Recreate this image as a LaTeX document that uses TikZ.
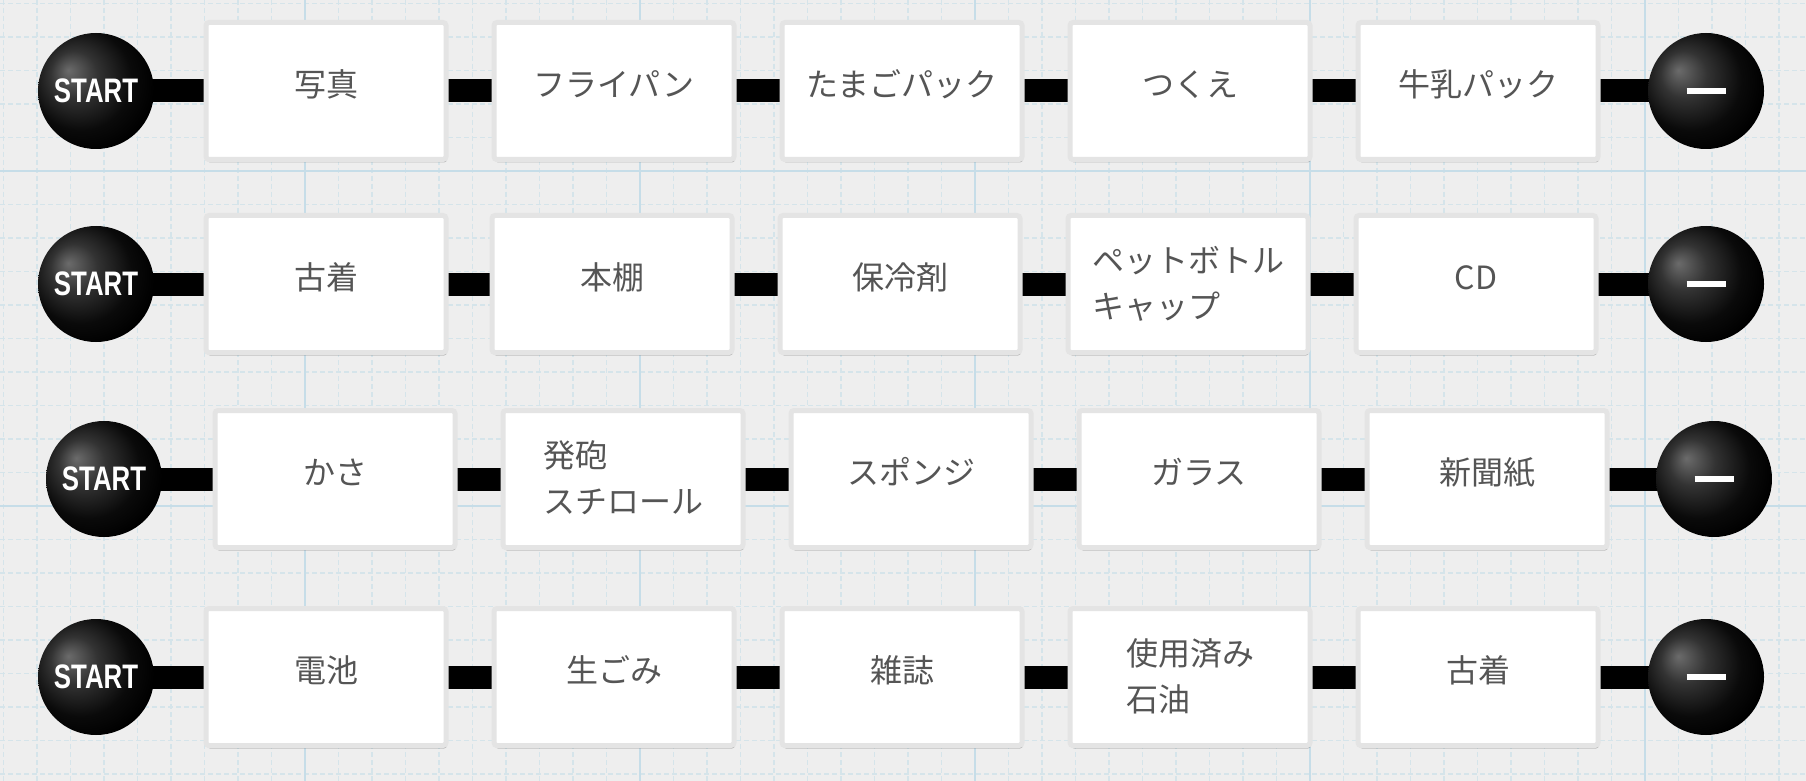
\documentclass[tikz,border=0pt]{standalone}
\usepackage{fontspec}
\newfontfamily\jp{Noto Sans CJK JP}
\newfontfamily\stf[FakeStretch=0.76]{Liberation Sans}
\usetikzlibrary{shadows}
\definecolor{bg}{HTML}{EEEEEE}
\definecolor{minorgrid}{HTML}{D5E4EA}
\definecolor{majorgrid}{HTML}{C6DDE8}
\definecolor{cardedge}{HTML}{E4E4E4}
\definecolor{txt}{HTML}{555555}
\pgfdeclarelayer{background}
\pgfsetlayers{background,main}
\pgfdeclareradialshading{myball}{\pgfqpoint{-12bp}{9bp}}{color(0bp)=(black!58); color(10bp)=(black!80); color(22bp)=(black!96); color(30bp)=(black); color(50bp)=(black)}
\newcommand{\cardtext}[2][2pt]{\raisebox{#1}[\height][\depth]{\begin{tabular}{@{}l@{}}#2\end{tabular}}}
\newcommand{\minusbar}{\textcolor{white}{\rule{19.5pt}{3.25pt}}}
\tikzset{
  card/.style={draw=cardedge, line width=2.5pt, fill=white, rounded corners=1.5pt,
    minimum width=120pt, minimum height=68.5pt, inner sep=0pt, text=txt,
    font=\jp\fontsize{16}{23.2}\selectfont,
    drop shadow={shadow xshift=0.5pt, shadow yshift=-1.5pt, opacity=0.22, fill=black}},
  startball/.style={circle, minimum size=58pt, inner sep=0pt, shading=myball,
    text=white, font=\stf\bfseries\fontsize{17}{18}\selectfont},
  endball/.style={circle, minimum size=58pt, inner sep=0pt, shading=myball},
  link/.style={line width=11.5pt, black},
  minorline/.style={minorgrid, line width=0.6pt, dash pattern=on 2.5pt off 1.5pt},
  majorline/.style={majorgrid, line width=1pt},
}
\begin{document}
\begin{tikzpicture}[x=0.5pt, y=-0.5pt]
\useasboundingbox (0,0) rectangle (1806,781);

% row 1
\node[startball] (s1) at (96,91) {START};
\node[card] (a1) at (326,91) {\cardtext{写真}};
\node[card] (b1) at (614,91) {\cardtext{フライパン}};
\node[card] (c1) at (902,91) {\cardtext{たまごパック}};
\node[card] (d1) at (1190,91) {\cardtext{つくえ}};
\node[card] (f1) at (1478,91) {\cardtext{牛乳パック}};
\node[endball] (e1) at (1706,91) {\minusbar};

% row 2
\node[startball] (s2) at (96,284) {START};
\node[card] (a2) at (326,284) {\cardtext{古着}};
\node[card] (b2) at (612,284) {\cardtext{本棚}};
\node[card] (c2) at (900,284) {\cardtext{保冷剤}};
\node[card] (d2) at (1188,284) {\cardtext[-1.2pt]{ペットボトル\\キャップ}};
\node[card] (f2) at (1476,284) {\cardtext{CD}};
\node[endball] (e2) at (1706,284) {\minusbar};

% row 3
\node[startball] (s3) at (104,479) {START};
\node[card] (a3) at (335,479) {\cardtext{かさ}};
\node[card] (b3) at (623,479) {\cardtext[-1.2pt]{発砲\\スチロール}};
\node[card] (c3) at (911,479) {\cardtext{スポンジ}};
\node[card] (d3) at (1199,479) {\cardtext{ガラス}};
\node[card] (f3) at (1487,479) {\cardtext{新聞紙}};
\node[endball] (e3) at (1714,479) {\minusbar};

% row 4
\node[startball] (s4) at (96,677) {START};
\node[card] (a4) at (326,677) {\cardtext{電池}};
\node[card] (b4) at (614,677) {\cardtext{生ごみ}};
\node[card] (c4) at (902,677) {\cardtext{雑誌}};
\node[card] (d4) at (1190,677) {\cardtext[-1.2pt]{使用済み\\石油}};
\node[card] (f4) at (1478,677) {\cardtext{古着}};
\node[endball] (e4) at (1706,677) {\minusbar};

\begin{pgfonlayer}{background}
  \fill[bg] (0,0) rectangle (1806,781);
  \foreach \i in {0,...,53} \draw[minorline] ({3.5+33.5*\i},0) -- ({3.5+33.5*\i},781);
  \foreach \j in {0,...,23} \draw[minorline] (0,{3.5+33.5*\j}) -- (1806,{3.5+33.5*\j});
  \foreach \x in {305,640,975,1310,1645} \draw[majorline] (\x,0) -- (\x,781);
  \foreach \y in {171,506} \draw[majorline] (0,\y) -- (1806,\y);
  \foreach \r in {1,2,3,4} {
    \draw[link] (s\r.center) -- (a\r.center);
    \draw[link] (a\r.center) -- (b\r.center);
    \draw[link] (b\r.center) -- (c\r.center);
    \draw[link] (c\r.center) -- (d\r.center);
    \draw[link] (d\r.center) -- (f\r.center);
    \draw[link] (f\r.center) -- (e\r.center);
  }
\end{pgfonlayer}
\end{tikzpicture}
\end{document}
